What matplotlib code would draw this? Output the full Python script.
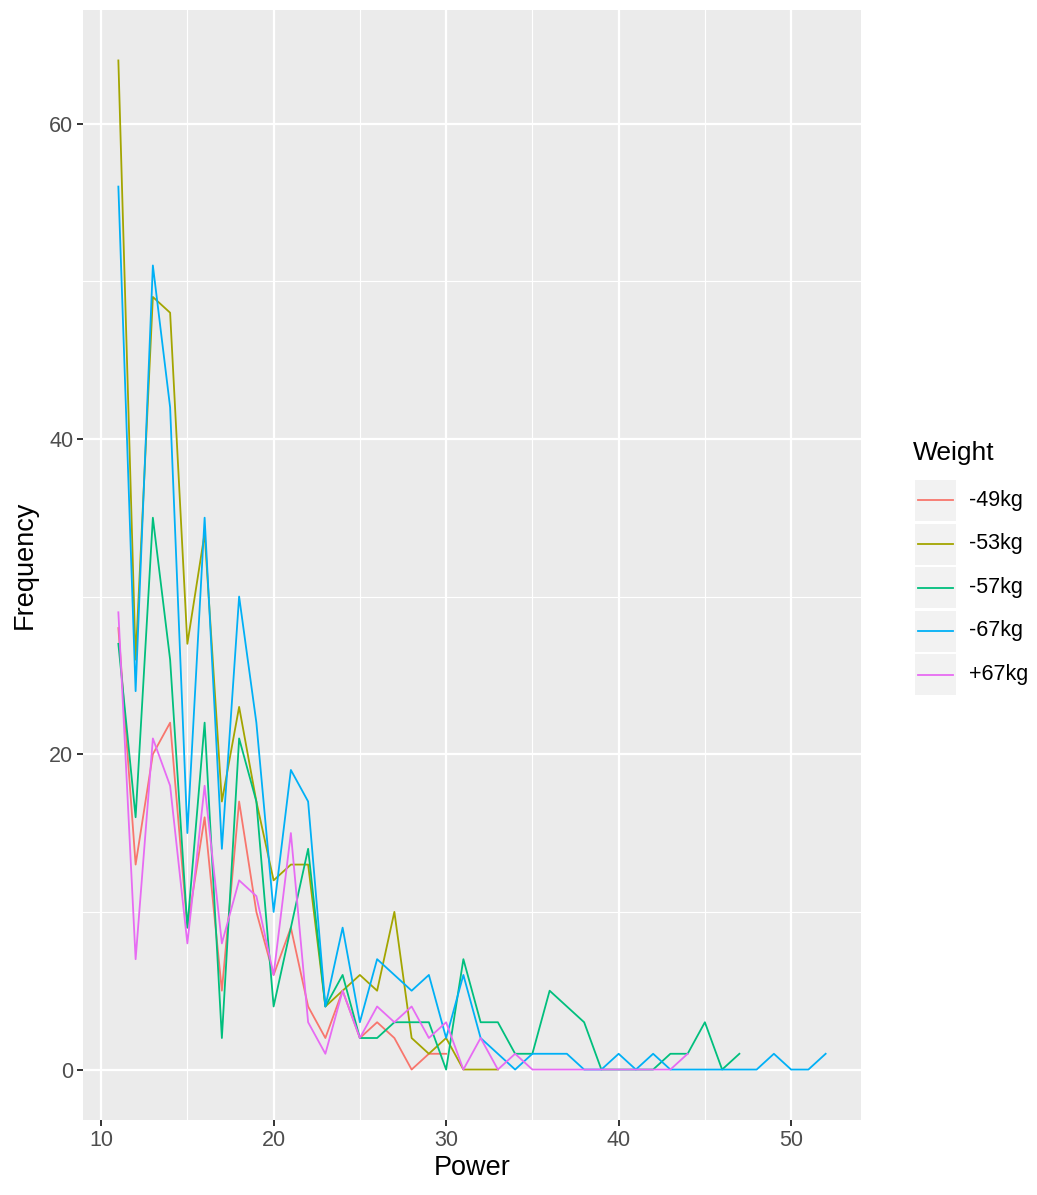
import numpy as np
import matplotlib
matplotlib.use("Agg")
import matplotlib.pyplot as plt
from matplotlib.patches import Rectangle
from matplotlib.lines import Line2D

plt.rcParams['font.family'] = ['Liberation Sans', 'DejaVu Sans']

# frequency of each power value, per weight class (starting at power 11)
weights = ['-49kg', '-53kg', '-57kg', '-67kg', '+67kg']
colors = ['#F8766D', '#A3A500', '#00BF7D', '#00B0F6', '#E76BF3']

freq_49 = [28, 13, 20, 22, 9, 16, 5, 17, 10, 6, 9, 4, 2, 5, 2, 3, 2, 0, 1, 1]
freq_53 = [64, 26, 49, 48, 27, 34, 17, 23, 17, 12, 13, 13, 4, 5, 6, 5, 10, 2, 1, 2,
           0, 0, 0]
freq_57 = [27, 16, 35, 26, 9, 22, 2, 21, 17, 4, 9, 14, 4, 6, 2, 2, 3, 3, 3, 0,
           7, 3, 3, 1, 1, 5, 4, 3, 0, 0, 0, 0, 1, 1, 3, 0, 1]
freq_67 = [56, 24, 51, 42, 15, 35, 14, 30, 22, 10, 19, 17, 4, 9, 3, 7, 6, 5, 6, 2,
           6, 2, 1, 0, 1, 1, 1, 0, 0, 1, 0, 1, 0, 0, 0, 0, 0, 0, 1, 0, 0, 1]
freq_p67 = [29, 7, 21, 18, 8, 18, 8, 12, 11, 6, 15, 3, 1, 5, 2, 4, 3, 4, 2, 3,
            0, 2, 0, 1, 0, 0, 0, 0, 0, 0, 0, 0, 0, 1]
series = [freq_49, freq_53, freq_57, freq_67, freq_p67]
power_start = 11

W, H = 1037, 1195
fig = plt.figure(figsize=(W / 100, H / 100), dpi=100)
ax = fig.add_axes([83 / W, 1 - 1120 / H, (861 - 83) / W, (1120 - 10) / H])
ax.set_facecolor('#EBEBEB')

for vals, col, name in zip(series, colors, weights):
    x = np.arange(power_start, power_start + len(vals))
    ax.plot(x, vals, color=col, lw=1.3, label=name, zorder=3)

ax.set_xlim(8.95, 54.05)
ax.set_ylim(-3.2, 67.2)
ax.set_xticks([10, 20, 30, 40, 50])
ax.set_yticks([0, 20, 40, 60])
ax.set_xticks([15, 25, 35, 45], minor=True)
ax.set_yticks([10, 30, 50], minor=True)
ax.grid(which='major', color='white', lw=1.6, zorder=1)
ax.grid(which='minor', color='white', lw=0.8, zorder=1)
ax.set_axisbelow(True)
for s in ax.spines.values():
    s.set_visible(False)
ax.tick_params(which='major', length=4, width=1.4, color='#333333',
               labelsize=15.5, labelcolor='#4D4D4D', pad=3)
ax.tick_params(which='minor', length=0)

ax.set_xlabel('Power', fontsize=19.5, labelpad=3)
ax.set_ylabel('Frequency', fontsize=19.5, labelpad=8)

# legend drawn like ggplot's guide
fig.text(913 / W, 1 - 453 / H, 'Weight', fontsize=19, va='center', ha='left')
key_top = 480
key_h = 43.5
for i, (name, col) in enumerate(zip(weights, colors)):
    y0 = key_top + i * key_h
    fig.patches.append(Rectangle((915 / W, 1 - (y0 + 41) / H), 41 / W, 41 / H,
                                 transform=fig.transFigure, facecolor='#F2F2F2',
                                 edgecolor='none'))
    yc = 1 - (y0 + 20.5) / H
    fig.lines.append(Line2D([918 / W, 953 / W], [yc, yc], transform=fig.transFigure,
                            color=col, lw=1.3))
    fig.text(969 / W, yc, name, fontsize=15.5, va='center', ha='left')

fig.savefig('out.png', dpi=100)
